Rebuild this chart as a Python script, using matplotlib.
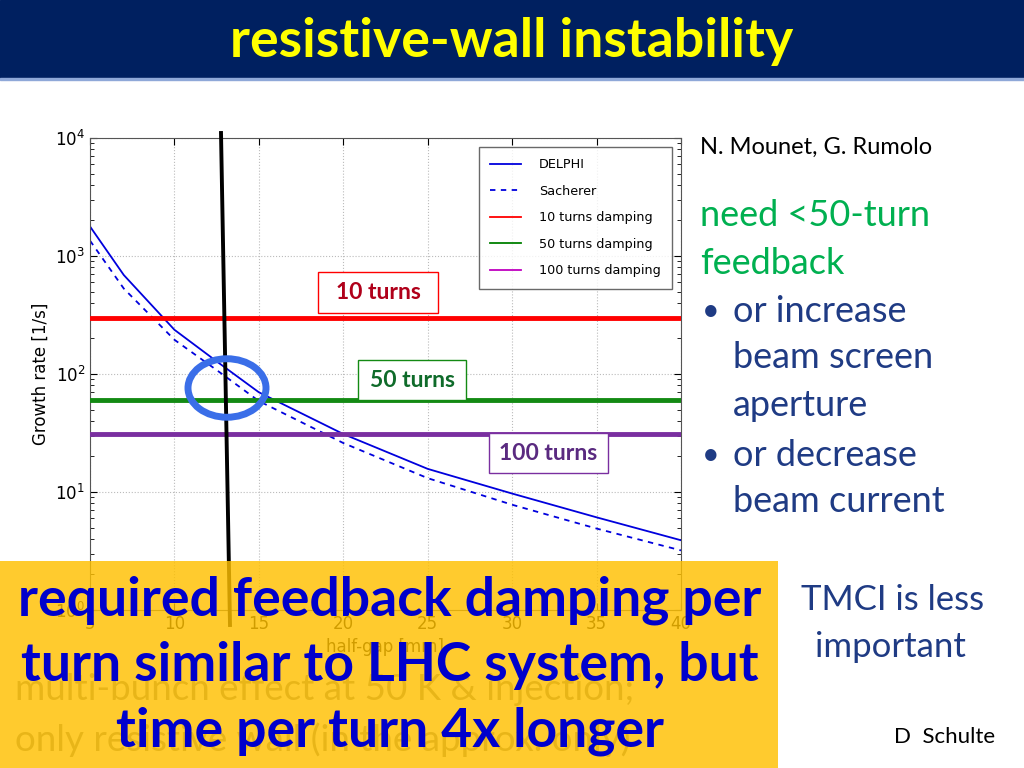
import numpy as np
import matplotlib
matplotlib.use("Agg")
import matplotlib.pyplot as plt
from matplotlib.patches import Rectangle, Circle

## data
half_gap = [5, 7, 10, 12.5, 15, 20, 25, 30, 35, 40]
delphi = [1780, 690, 237, 128, 70, 31, 15.7, 9.7, 6.1, 3.9]
sacherer = [1350, 530, 195, 108, 59, 26, 13.1, 7.8, 4.9, 3.2]
damping_turns = [10, 50, 100]
damping_rates = [300, 60, 31]
damping_colors = ['red', 'green', 'm']
slide_line_colors = ['#ff0000', '#138a13', '#7a2fa0']
box_text_colors = ['#b0001a', '#0f6b2a', '#5a2a80']
box_pos = [(318, 272, 120, 41), (358, 360, 108, 40), (489, 433, 119, 40)]

W, H = 1024, 768
fig = plt.figure(figsize=(10.24, 7.68), dpi=100)

def fx(px):
    return px / W

def fy(py):
    return 1 - py / H

## title bar
fig.patches.append(Rectangle((0, fy(78)), 1, 78 / H, transform=fig.transFigure,
                             color='#002060', zorder=0))
fig.patches.append(Rectangle((0, fy(80)), 1, 2 / H, transform=fig.transFigure,
                             color='#8fa8d8', zorder=0))
fig.text(0.5, fy(42), 'resistive-wall instability', ha='center', va='center',
         fontsize=38.5, fontweight='bold', color='#ffff00', family='Lato')

## the chart
ax = fig.add_axes([fx(90), fy(610), 591 / W, 472 / H])
ax.set_yscale('log')
ax.plot(half_gap, delphi, color='#0000dd', lw=1.3, label='DELPHI')
ax.plot(half_gap, sacherer, color='#0000dd', lw=1.3, ls=(0, (3, 3)), label='Sacherer')
for n, r, c in zip(damping_turns, damping_rates, damping_colors):
    ax.plot([], [], color=c, lw=1.3, label='%d turns damping' % n)
for r, c in zip(damping_rates, slide_line_colors):
    ax.axhline(r, color=c, lw=3.5, zorder=3)
ax.set_xlim(5, 40)
ax.set_ylim(1, 1e4)
ax.set_xticks(range(5, 41, 5))
ax.grid(True, which='major', ls=':', color='#bbbbbb', lw=0.8)
ax.tick_params(labelsize=12, direction='in', length=5, top=True, right=True)
ax.tick_params(which='minor', direction='in', length=3, top=True, right=True)
for s in ax.spines.values():
    s.set_color('#555555')
ax.set_xlabel('half-gap [mm]', fontsize=12)
ax.set_ylabel('Growth rate [1/s]', fontsize=12)
leg = ax.legend(loc='upper right', fontsize=9.2, frameon=True, fancybox=False,
                edgecolor='#444444', borderpad=0.9, labelspacing=1.05,
                handlelength=2.4, handletextpad=1.4, borderaxespad=0,
                bbox_to_anchor=((672 - 90) / 591, (610 - 147) / 472))
leg.set_zorder(5)

## hand-drawn marks on the slide
fig.add_artist(plt.Line2D([fx(221), fx(230)], [fy(133), fy(625)],
                          transform=fig.transFigure, color='black', lw=2.8, zorder=4))
fig.add_artist(Circle((fx(227), fy(388)), 39 / W, transform=fig.transFigure,
                      fill=False, ec='#3a6ee8', lw=5, zorder=6))

for (x0, y0, w, h), n, lc, tc in zip(box_pos, damping_turns, slide_line_colors, box_text_colors):
    fig.patches.append(Rectangle((fx(x0), fy(y0 + h)), w / W, h / H, transform=fig.transFigure,
                                 fc='white', ec=lc, lw=1, zorder=5))
    fig.text(fx(x0 + w / 2), fy(y0 + h / 2), '%d turns' % n, ha='center', va='center',
             fontsize=16.5, fontweight='bold', color=tc, family='Lato', zorder=6)

## right hand notes
fig.text(fx(700), fy(147), 'N. Mounet, G. Rumolo', ha='left', va='center',
         fontsize=17, color='black', family='Lato')
fig.text(fx(700), fy(216), 'need <50-turn', ha='left', va='center',
         fontsize=26, color='#00b050', family='Lato')
fig.text(fx(700), fy(263), 'feedback', ha='left', va='center',
         fontsize=26, color='#00b050', family='Lato')
blue = '#1f3b84'
bullets = [('\u2022', 'or increase', 311), ('', 'beam screen', 358), ('', 'aperture', 406),
           ('\u2022', 'or decrease', 455), ('', 'beam current', 502)]
for b, t, y in bullets:
    if b:
        fig.text(fx(702), fy(y), b, ha='left', va='center', fontsize=22, color=blue, family='Lato')
    fig.text(fx(733), fy(y), t, ha='left', va='center', fontsize=26, color=blue, family='Lato')
fig.text(fx(893), fy(600), 'TMCI is less', ha='center', va='center',
         fontsize=25, color=blue, family='Lato')
fig.text(fx(890), fy(647), 'important', ha='center', va='center',
         fontsize=25, color=blue, family='Lato')
fig.text(fx(995), fy(737), 'D  Schulte', ha='right', va='center',
         fontsize=16, color='black', family='Lato')

## grey note hidden under the yellow box
fig.text(fx(15), fy(690), 'multi-bunch effect at 50 K & injection;', ha='left', va='center',
         fontsize=26.5, color='#858585', family='Lato')
fig.text(fx(15), fy(740), 'only resistive wall (in the approx. only)', ha='left', va='center',
         fontsize=26.5, color='#858585', family='Lato')

## yellow box
fig.add_artist(Rectangle((0, 0), fx(778), fy(561), transform=fig.transFigure,
                         fc='#ffc000', ec='none', alpha=0.82, zorder=10))
for t, y in [('required feedback damping per', 600),
             ('turn similar to LHC system, but', 665),
             ('time per turn 4x longer', 731)]:
    fig.text(fx(390), fy(y), t, ha='center', va='center', fontsize=38.5, fontweight='bold',
             color='#0000cc', family='Lato', zorder=11)

plt.savefig('out.png', dpi=100)
